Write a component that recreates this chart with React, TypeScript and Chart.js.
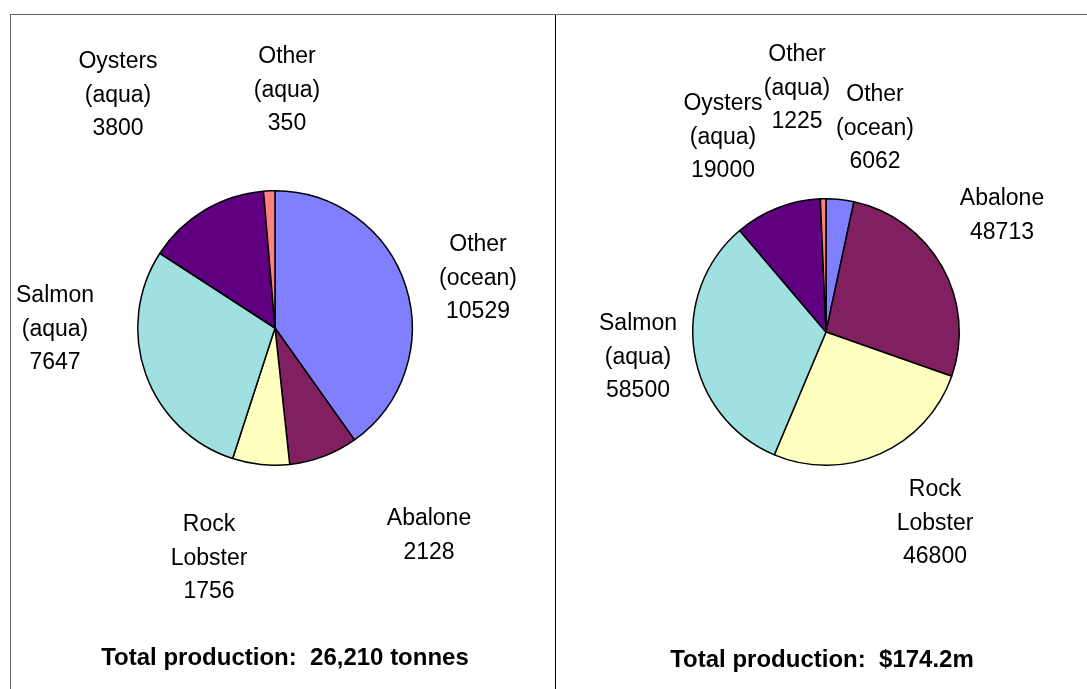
import React, { useEffect, useRef } from "react";
import { Chart, registerables } from "chart.js";

Chart.register(...registerables);

// ---- data ----
const categories = ["Other (ocean)", "Abalone", "Rock Lobster", "Salmon (aqua)", "Oysters (aqua)", "Other (aqua)"];
const labelLines = [["Other", "(ocean)"], ["Abalone"], ["Rock", "Lobster"], ["Salmon", "(aqua)"], ["Oysters", "(aqua)"], ["Other", "(aqua)"]];
const tonnes = [10529, 2128, 1756, 7647, 3800, 350];
const valueThousands = [6062, 48713, 46800, 58500, 19000, 1225];
const colors = ["#8080FF", "#802060", "#FFFFC0", "#A0E0E0", "#600080", "#FF8080"];
const totalTonnes = "Total production:  26,210 tonnes";
const totalValue = "Total production:  $174.2m";

// ---- layout (label anchor offsets from pie centre, px) ----
const leftLabelOffsets = [[203, -83], [154, 191], [-66, 197], [-220, -32], [-157, -266], [12, -271]];
const rightLabelOffsets = [[49, -237], [176, -133], [109, 158], [-188, -8], [-103, -228], [-29, -277]];
const leftTotalOffset = [10, 330];
const rightTotalOffset = [-4, 328];

const FONT = '"Liberation Sans", Arial, Helvetica, sans-serif';
const LINE = 33.5;

function makeLabelPlugin(values: number[], offsets: number[][], total: string, totalOff: number[]) {
  return {
    id: "pieLabels",
    afterDraw(chart: any) {
      const meta = chart.getDatasetMeta(0);
      const arc = meta.data[0];
      if (!arc) return;
      const cx = arc.x;
      const cy = arc.y;
      const ctx = chart.ctx;
      ctx.save();
      ctx.fillStyle = "#000";
      ctx.textAlign = "center";
      ctx.textBaseline = "middle";
      ctx.font = `23px ${FONT}`;
      labelLines.forEach((lines, i) => {
        const all = [...lines, String(values[i])];
        all.forEach((t, j) => {
          ctx.fillText(t, cx + offsets[i][0], cy + offsets[i][1] + j * LINE);
        });
      });
      ctx.font = `bold 24px ${FONT}`;
      ctx.fillText(total, cx + totalOff[0], cy + totalOff[1]);
      ctx.restore();
    },
  };
}

function PieChart(props: {
  values: number[];
  offsets: number[][];
  total: string;
  totalOff: number[];
  padding: { left: number; right: number; top: number; bottom: number };
}) {
  const ref = useRef<HTMLCanvasElement | null>(null);
  useEffect(() => {
    if (!ref.current) return;
    const chart = new Chart(ref.current, {
      type: "pie",
      data: {
        labels: categories,
        datasets: [
          {
            data: props.values,
            backgroundColor: colors,
            borderColor: "#000",
            borderWidth: 1.5,
          },
        ],
      },
      options: {
        animation: false,
        responsive: true,
        maintainAspectRatio: false,
        layout: { padding: props.padding },
        plugins: {
          legend: { display: false },
          tooltip: { enabled: false },
          title: { display: false },
        },
      },
      plugins: [makeLabelPlugin(props.values, props.offsets, props.total, props.totalOff)],
    });
    return () => chart.destroy();
  }, []);
  return <canvas ref={ref} />;
}

export default function App() {
  useEffect(() => {
    document.documentElement.style.overflow = "hidden";
    document.body.style.overflow = "hidden";
  }, []);
  return (
    <div style={{ position: "fixed", left: 0, top: 0, width: 1087, height: 689, background: "#fff", overflow: "hidden" }}>
      <div style={{ position: "absolute", left: 10, top: 14, width: 1077, height: 1, background: "#666" }} />
      <div style={{ position: "absolute", left: 10, top: 14, width: 1, height: 675, background: "#666" }} />
      <div style={{ position: "absolute", left: 555, top: 15, width: 1, height: 674, background: "#000" }} />
      <div style={{ position: "absolute", left: 11, top: 15, width: 544, height: 674 }}>
        <PieChart
          values={tonnes}
          offsets={leftLabelOffsets}
          total={totalTonnes}
          totalOff={leftTotalOffset}
          padding={{ left: 126, right: 142, top: 174, bottom: 222 }}
        />
      </div>
      <div style={{ position: "absolute", left: 556, top: 15, width: 531, height: 674 }}>
        <PieChart
          values={valueThousands}
          offsets={rightLabelOffsets}
          total={totalValue}
          totalOff={rightTotalOffset}
          padding={{ left: 136, right: 127, top: 183, bottom: 223 }}
        />
      </div>
    </div>
  );
}
